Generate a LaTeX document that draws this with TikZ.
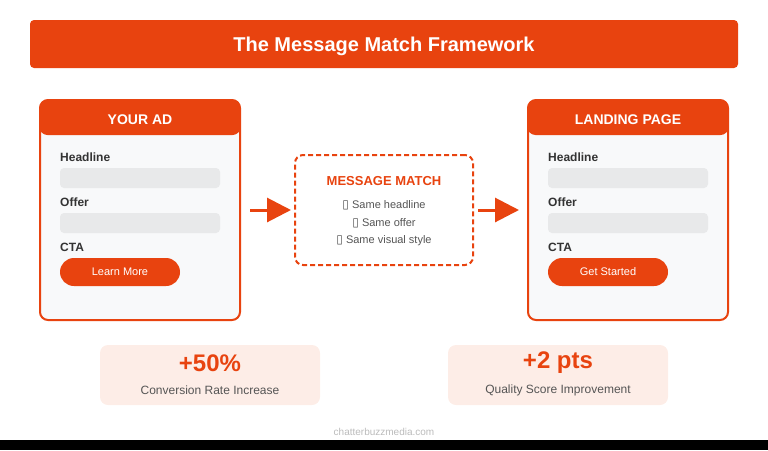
\documentclass[tikz,border=0pt]{standalone}
\usepackage{fontspec}
\setmainfont{Liberation Sans}
\newfontfamily\symfont{DejaVu Sans}
\usetikzlibrary{arrows.meta}

\definecolor{brand}{HTML}{E8430F}
\definecolor{cardbg}{HTML}{F8F9FA}
\definecolor{barbg}{HTML}{E8E9EA}
\definecolor{statbg}{HTML}{FDEDE7}
\definecolor{darktxt}{HTML}{333333}
\definecolor{graytxt}{HTML}{555555}
\definecolor{foottxt}{HTML}{BBBBBB}

\newcommand{\tofu}{{\symfont\fontsize{12}{13}\selectfont ▯}}

\tikzset{
  card/.style={draw=brand, line width=2pt, fill=cardbg, rounded corners=8pt,
    minimum width=200pt, minimum height=220pt, inner sep=0pt},
  cardhead/.style={fill=brand, rounded corners=8pt, minimum width=201pt,
    minimum height=35pt, inner sep=0pt, text=white, font=\fontsize{14}{16}\selectfont\bfseries},
  field/.style={anchor=west, inner sep=0pt, text=darktxt, font=\fontsize{12}{14}\selectfont\bfseries},
  fieldbar/.style={fill=barbg, rounded corners=4pt, minimum width=160pt,
    minimum height=20pt, inner sep=0pt},
  cta/.style={fill=brand, rounded corners=14pt, minimum width=120pt,
    minimum height=28pt, inner sep=0pt, text=white, font=\fontsize{11}{13}\selectfont},
  statbox/.style={fill=statbg, rounded corners=8pt, minimum width=220pt,
    minimum height=60pt, inner sep=0pt},
  item/.style={text=graytxt, inner sep=0pt, font=\fontsize{11}{13}\selectfont},
  flow/.style={draw=brand, line width=3pt, -{Triangle[length=24pt,width=24pt]}}
}

\begin{document}
\begin{tikzpicture}[x=1pt,y=-1pt]
  \useasboundingbox (0,0) rectangle (768,450);

  % title
  \node[fill=brand, rounded corners=4pt, minimum width=708pt, minimum height=48pt] (title) at (384,44) {};
  \node[text=white, font=\fontsize{20}{24}\selectfont\bfseries] (titletxt) at (384,46.5)
    {The Message Match Framework};

  % your ad
  \node[card] (ad) at (140,210) {};
  \node[cardhead] (adhead) at (140,117.5) {};
  \node[text=white, font=\fontsize{14}{16}\selectfont\bfseries] (adtitle) at (140,119.5) {YOUR AD};
  \node[field] (adh) at (60,157) {Headline};
  \node[fieldbar] (adhbar) at (140,178) {};
  \node[field] (ado) at (60,202) {Offer};
  \node[fieldbar] (adobar) at (140,223) {};
  \node[field] (adc) at (60,247) {CTA};
  \node[cta] (adbtn) at (120,272) {Learn More};

  % landing page
  \node[card] (lp) at (628,210) {};
  \node[cardhead] (lphead) at (628,117.5) {};
  \node[text=white, font=\fontsize{14}{16}\selectfont\bfseries] (lptitle) at (628,119.5) {LANDING PAGE};
  \node[field] (lph) at (548,157) {Headline};
  \node[fieldbar] (lphbar) at (628,178) {};
  \node[field] (lpo) at (548,202) {Offer};
  \node[fieldbar] (lpobar) at (628,223) {};
  \node[field] (lpc) at (548,247) {CTA};
  \node[cta] (lpbtn) at (608,272) {Get Started};

  % message match
  \node[draw=brand, dashed, dash pattern=on 5pt off 3pt, line width=2pt, fill=white,
    rounded corners=8pt, minimum width=178pt, minimum height=110pt] (match) at (384,210) {};
  \node[text=brand, font=\fontsize{13}{15}\selectfont\bfseries] (mtitle) at (384,181.5) {MESSAGE MATCH};
  \node[item] (m1) at (384,205) {\tofu\ Same headline};
  \node[item] (m2) at (384,223) {\tofu\ Same offer};
  \node[item] (m3) at (384,241) {\tofu\ Same visual style};

  \draw[flow, shorten <=9pt, shorten >=3pt] (ad) -- (match);
  \draw[flow, shorten <=4pt, shorten >=8pt] (match) -- (lp);

  % stats
  \node[statbox] (s1) at (210,375) {};
  \node[text=brand, font=\fontsize{24}{28}\selectfont\bfseries] (s1v) at (210,363) {+50\%};
  \node[text=graytxt, font=\fontsize{12}{14}\selectfont] (s1t) at (210,390) {Conversion Rate Increase};
  \node[statbox] (s2) at (558,375) {};
  \node[text=brand, font=\fontsize{24}{28}\selectfont\bfseries] (s2v) at (558,363) {+2 pts};
  \node[text=graytxt, font=\fontsize{12}{14}\selectfont] (s2t) at (558,390) {Quality Score Improvement};

  % footer
  \node[text=foottxt, font=\fontsize{10}{12}\selectfont] (foot) at (384,432) {chatterbuzzmedia.com};
  \fill[black] (0,440) rectangle (768,450);
\end{tikzpicture}
\end{document}
